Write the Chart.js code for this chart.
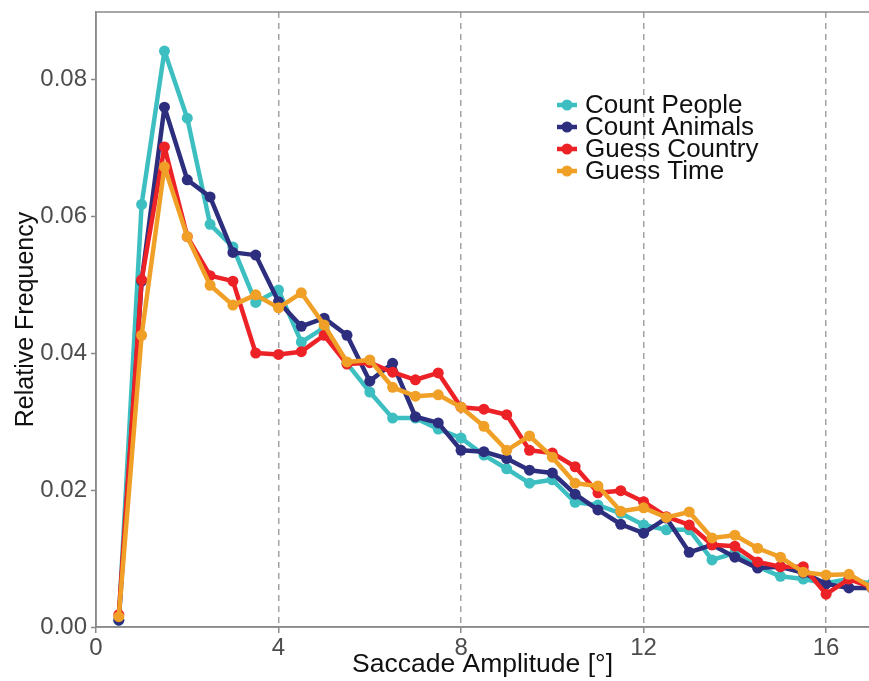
<!DOCTYPE html>
<html>
<head>
<meta charset="utf-8">
<script src="https://cdn.jsdelivr.net/npm/chart.js@4.4.0/dist/chart.umd.min.js"></script>
<style>
    html, body { margin: 0; padding: 0; background: #fff; overflow: hidden; }
    #wrap { width: 869px; height: 681px; }
</style>
</head>
<body>
<div id="wrap"><canvas id="chart" width="869" height="681"></canvas></div>
<script>
// Saccade amplitude bins (deg)
const amplitudes = [0.5, 1, 1.5, 2, 2.5, 3, 3.5, 4, 4.5, 5, 5.5, 6, 6.5, 7, 7.5, 8, 8.5,
    9, 9.5, 10, 10.5, 11, 11.5, 12, 12.5, 13, 13.5, 14, 14.5, 15, 15.5, 16, 16.5, 17];

// Relative frequency per task
const countPeople = [0.0010, 0.0617, 0.0841, 0.0743, 0.0588, 0.0555, 0.0474, 0.0492, 0.0416,
    0.0437, 0.0385, 0.0343, 0.0305, 0.0305, 0.0289, 0.0276, 0.0251, 0.0231, 0.0210, 0.0215,
    0.0182, 0.0178, 0.0166, 0.0149, 0.0142, 0.0142, 0.0098, 0.0108, 0.0088, 0.0074, 0.0070,
    0.0064, 0.0070, 0.0063];
const countAnimals = [0.0010, 0.0505, 0.0759, 0.0653, 0.0628, 0.0547, 0.0543, 0.0475, 0.0439,
    0.0451, 0.0426, 0.0359, 0.0385, 0.0307, 0.0298, 0.0258, 0.0256, 0.0246, 0.0229, 0.0225,
    0.0194, 0.0171, 0.0150, 0.0137, 0.0159, 0.0109, 0.0120, 0.0102, 0.0086, 0.0088, 0.0079,
    0.0063, 0.0057, 0.0057];
const guessCountry = [0.0018, 0.0507, 0.0701, 0.0570, 0.0513, 0.0505, 0.0400, 0.0398, 0.0402,
    0.0426, 0.0384, 0.0386, 0.0372, 0.0361, 0.0371, 0.0321, 0.0318, 0.0310, 0.0258, 0.0254,
    0.0234, 0.0196, 0.0199, 0.0183, 0.0161, 0.0149, 0.0120, 0.0118, 0.0095, 0.0088, 0.0088,
    0.0048, 0.0070, 0.0058];
const guessTime = [0.0015, 0.0426, 0.0672, 0.0570, 0.0499, 0.0470, 0.0485, 0.0466, 0.0488,
    0.0441, 0.0387, 0.0390, 0.0350, 0.0337, 0.0339, 0.0321, 0.0293, 0.0258, 0.0279, 0.0248,
    0.0210, 0.0206, 0.0169, 0.0174, 0.0160, 0.0168, 0.0130, 0.0134, 0.0115, 0.0102, 0.0080,
    0.0076, 0.0077, 0.0058];

const seriesNames = ['Count People', 'Count Animals', 'Guess Country', 'Guess Time'];
const seriesColors = ['#3dbfc2', '#2d2f7e', '#ec2227', '#f0a026'];

// Axis limits / ticks
const xMin = 0, xMax = 16.94, xStep = 4;
const yMin = 0, yMax = 0.0898, yStep = 0.02;

const FONT = '"Liberation Sans", Arial, Helvetica, sans-serif';
const AXIS_GREY = '#8a8a8a';

function toPoints(values) {
    return amplitudes.map((a, i) => ({ x: a, y: values[i] }));
}

const seriesValues = [countPeople, countAnimals, guessCountry, guessTime];

const datasets = seriesNames.map((name, i) => ({
    label: name,
    data: toPoints(seriesValues[i]),
    borderColor: seriesColors[i],
    backgroundColor: seriesColors[i],
    pointBackgroundColor: seriesColors[i],
    pointBorderColor: seriesColors[i],
    borderWidth: 4.5,
    borderJoinStyle: 'round',
    borderCapStyle: 'round',
    pointRadius: 5.5,
    pointBorderWidth: 0,
    tension: 0,
    order: seriesNames.length - i,
}));

// panel frame lines + in-panel legend
const framePlugin = {
    id: 'frame',
    afterDraw(chart) {
        const { ctx, chartArea } = chart;
        ctx.save();
        ctx.strokeStyle = AXIS_GREY;
        ctx.lineWidth = 1.5;
        ctx.setLineDash([]);
        ctx.beginPath();
        ctx.moveTo(chartArea.left, chartArea.top);
        ctx.lineTo(chartArea.right, chartArea.top);
        ctx.moveTo(chartArea.left, chartArea.bottom);
        ctx.lineTo(chartArea.right, chartArea.bottom);
        ctx.moveTo(chartArea.left, chartArea.top);
        ctx.lineTo(chartArea.left, chartArea.bottom);
        ctx.stroke();

        // legend
        const lx = 567, tx = 585, y0 = 105, dy = 22;
        ctx.font = '26px ' + FONT;
        ctx.textBaseline = 'middle';
        ctx.textAlign = 'left';
        seriesNames.forEach((name, i) => {
            const y = y0 + i * dy;
            ctx.strokeStyle = seriesColors[i];
            ctx.fillStyle = seriesColors[i];
            ctx.lineWidth = 4.5;
            ctx.beginPath();
            ctx.moveTo(lx - 10, y);
            ctx.lineTo(lx + 10, y);
            ctx.stroke();
            ctx.beginPath();
            ctx.arc(lx, y, 5.5, 0, Math.PI * 2);
            ctx.fill();
            ctx.fillStyle = '#111';
            ctx.fillText(name, tx, y + 1);
        });
        ctx.restore();
    }
};

new Chart(document.getElementById('chart'), {
    type: 'line',
    data: { datasets },
    options: {
        responsive: false,
        devicePixelRatio: 1,
        animation: false,
        layout: {
            autoPadding: false,
            padding: { top: 12, right: 0, bottom: 0, left: 0 },
        },
        plugins: {
            legend: { display: false },
            tooltip: { enabled: false },
        },
        scales: {
            x: {
                type: 'linear',
                min: xMin,
                max: xMax,
                afterFit(scale) {
                    scale.height = 54;
                    scale.paddingLeft = 0;
                    scale.paddingRight = 0;
                },
                ticks: {
                    stepSize: xStep,
                    includeBounds: false,
                    font: { family: FONT, size: 24 },
                    color: '#4d4d4d',
                    padding: 1,
                    maxRotation: 0,
                },
                grid: {
                    color: (c) => (c.tick && c.tick.value === 0 ? 'rgba(0,0,0,0)' : '#a3a3a3'),
                    lineWidth: 1.5,
                    tickBorderDash: [],
                    tickColor: AXIS_GREY,
                    tickLength: 6,
                    tickWidth: 1.5,
                },
                border: { display: true, color: AXIS_GREY, width: 1.5, dash: [6, 5] },
                title: {
                    display: true,
                    text: 'Saccade Amplitude [°]',
                    font: { family: FONT, size: 26.5 },
                    color: '#111',
                    padding: { top: 0, bottom: 0 },
                },
            },
            y: {
                min: yMin,
                max: yMax,
                afterFit(scale) {
                    scale.width = 96;
                    scale.paddingTop = 0;
                    scale.paddingBottom = 0;
                },
                ticks: {
                    stepSize: yStep,
                    includeBounds: false,
                    font: { family: FONT, size: 24 },
                    color: '#4d4d4d',
                    padding: 4,
                    callback: (v) => v.toFixed(2),
                },
                grid: {
                    drawOnChartArea: false,
                    tickColor: AXIS_GREY,
                    tickLength: 5,
                    tickWidth: 1.5,
                },
                border: { display: true, color: AXIS_GREY, width: 1.5 },
                title: {
                    display: true,
                    text: 'Relative Frequency',
                    font: { family: FONT, size: 25 },
                    color: '#111',
                    padding: { top: 11, bottom: 0 },
                },
            },
        },
    },
    plugins: [framePlugin],
});
</script>
</body>
</html>
